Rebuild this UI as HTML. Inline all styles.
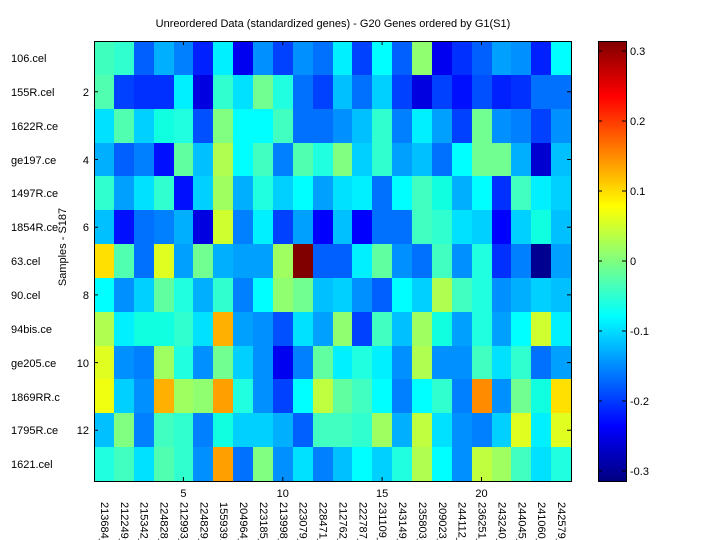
<!DOCTYPE html>
<html><head><meta charset="utf-8"><style>
body{margin:0;width:720px;height:540px;background:#fff;position:relative;overflow:hidden;font-family:"Liberation Sans",Arial,sans-serif}
#hm{position:absolute;left:94px;top:41px;width:477px;height:440px;display:grid;grid-template-columns:repeat(24,1fr);grid-template-rows:repeat(13,1fr)}
#hm i{display:block}
#cb{position:absolute;left:598px;top:41px;width:28px;height:440px;background:linear-gradient(to bottom,#800000 0%,#ff0000 12.5%,#ffff00 37.5%,#00ffff 62.5%,#0000ff 87.5%,#000080 100%)}
svg{position:absolute;left:0;top:0}
text{font-family:"Liberation Sans",Arial,sans-serif;font-size:11px;fill:#000}
</style></head><body>
<div id="hm">
<i style="background:#3fffbf"></i><i style="background:#30ffd0"></i><i style="background:#0060ff"></i><i style="background:#00b0ff"></i><i style="background:#0080ff"></i><i style="background:#0020ff"></i><i style="background:#00f0ff"></i><i style="background:#0000f0"></i><i style="background:#0090ff"></i><i style="background:#0040ff"></i><i style="background:#0090ff"></i><i style="background:#0070ff"></i><i style="background:#00f0ff"></i><i style="background:#0040ff"></i><i style="background:#00ffff"></i><i style="background:#0060ff"></i><i style="background:#90ff70"></i><i style="background:#0000f0"></i><i style="background:#0030ff"></i><i style="background:#0060ff"></i><i style="background:#00a0ff"></i><i style="background:#0090ff"></i><i style="background:#0020ff"></i><i style="background:#00ffff"></i>
<i style="background:#50ffb0"></i><i style="background:#0040ff"></i><i style="background:#0030ff"></i><i style="background:#0030ff"></i><i style="background:#00f0ff"></i><i style="background:#0000e0"></i><i style="background:#30ffd0"></i><i style="background:#00e0ff"></i><i style="background:#70ff90"></i><i style="background:#20ffe0"></i><i style="background:#0070ff"></i><i style="background:#0040ff"></i><i style="background:#00c0ff"></i><i style="background:#0070ff"></i><i style="background:#00d0ff"></i><i style="background:#0040ff"></i><i style="background:#0000e0"></i><i style="background:#0040ff"></i><i style="background:#0010ff"></i><i style="background:#0050ff"></i><i style="background:#0020ff"></i><i style="background:#0030ff"></i><i style="background:#0070ff"></i><i style="background:#0070ff"></i>
<i style="background:#00e0ff"></i><i style="background:#50ffb0"></i><i style="background:#00d0ff"></i><i style="background:#10ffe0"></i><i style="background:#20ffe0"></i><i style="background:#0050ff"></i><i style="background:#80ff80"></i><i style="background:#00ffff"></i><i style="background:#00ffff"></i><i style="background:#40ffc0"></i><i style="background:#0070ff"></i><i style="background:#0070ff"></i><i style="background:#0090ff"></i><i style="background:#00c0ff"></i><i style="background:#30ffd0"></i><i style="background:#0080ff"></i><i style="background:#00f0ff"></i><i style="background:#00a0ff"></i><i style="background:#0040ff"></i><i style="background:#70ff90"></i><i style="background:#0090ff"></i><i style="background:#0080ff"></i><i style="background:#0040ff"></i><i style="background:#0090ff"></i>
<i style="background:#00b0ff"></i><i style="background:#0060ff"></i><i style="background:#0080ff"></i><i style="background:#0010ff"></i><i style="background:#60ffa0"></i><i style="background:#00c0ff"></i><i style="background:#b0ff50"></i><i style="background:#00ffff"></i><i style="background:#40ffc0"></i><i style="background:#0080ff"></i><i style="background:#50ffb0"></i><i style="background:#20ffe0"></i><i style="background:#80ff80"></i><i style="background:#00d0ff"></i><i style="background:#30ffd0"></i><i style="background:#00a0ff"></i><i style="background:#00c0ff"></i><i style="background:#0070ff"></i><i style="background:#00ffff"></i><i style="background:#70ff90"></i><i style="background:#70ff90"></i><i style="background:#00b0ff"></i><i style="background:#0000d0"></i><i style="background:#00c0ff"></i>
<i style="background:#30ffd0"></i><i style="background:#00a0ff"></i><i style="background:#00e0ff"></i><i style="background:#30ffd0"></i><i style="background:#0010ff"></i><i style="background:#00d0ff"></i><i style="background:#a0ff60"></i><i style="background:#00b0ff"></i><i style="background:#20ffe0"></i><i style="background:#00d0ff"></i><i style="background:#00ffff"></i><i style="background:#00a0ff"></i><i style="background:#00e0ff"></i><i style="background:#00f0ff"></i><i style="background:#0070ff"></i><i style="background:#00ffff"></i><i style="background:#40ffc0"></i><i style="background:#10ffe0"></i><i style="background:#00b0ff"></i><i style="background:#00ffff"></i><i style="background:#0030ff"></i><i style="background:#40ffc0"></i><i style="background:#00f0ff"></i><i style="background:#00d0ff"></i>
<i style="background:#00c0ff"></i><i style="background:#0010ff"></i><i style="background:#0070ff"></i><i style="background:#0080ff"></i><i style="background:#00b0ff"></i><i style="background:#0000e0"></i><i style="background:#d0ff30"></i><i style="background:#0080ff"></i><i style="background:#00f0ff"></i><i style="background:#0040ff"></i><i style="background:#00a0ff"></i><i style="background:#0000ff"></i><i style="background:#00c0ff"></i><i style="background:#0000ff"></i><i style="background:#0070ff"></i><i style="background:#0070ff"></i><i style="background:#40ffc0"></i><i style="background:#30ffd0"></i><i style="background:#00e0ff"></i><i style="background:#00d0ff"></i><i style="background:#0000ff"></i><i style="background:#00d0ff"></i><i style="background:#10ffe0"></i><i style="background:#00c0ff"></i>
<i style="background:#ffe000"></i><i style="background:#50ffb0"></i><i style="background:#0070ff"></i><i style="background:#e0ff20"></i><i style="background:#00a0ff"></i><i style="background:#70ff90"></i><i style="background:#00b0ff"></i><i style="background:#00a0ff"></i><i style="background:#00a0ff"></i><i style="background:#a0ff60"></i><i style="background:#800000"></i><i style="background:#0060ff"></i><i style="background:#0060ff"></i><i style="background:#00f0ff"></i><i style="background:#60ffa0"></i><i style="background:#0090ff"></i><i style="background:#0070ff"></i><i style="background:#40ffc0"></i><i style="background:#0090ff"></i><i style="background:#20ffe0"></i><i style="background:#0030ff"></i><i style="background:#0080ff"></i><i style="background:#000090"></i><i style="background:#00a0ff"></i>
<i style="background:#00ffff"></i><i style="background:#0090ff"></i><i style="background:#00d0ff"></i><i style="background:#60ffa0"></i><i style="background:#20ffe0"></i><i style="background:#00b0ff"></i><i style="background:#30ffd0"></i><i style="background:#0080ff"></i><i style="background:#00ffff"></i><i style="background:#90ff70"></i><i style="background:#70ff90"></i><i style="background:#00c0ff"></i><i style="background:#00d0ff"></i><i style="background:#0090ff"></i><i style="background:#0060ff"></i><i style="background:#00ffff"></i><i style="background:#00d0ff"></i><i style="background:#b0ff50"></i><i style="background:#40ffc0"></i><i style="background:#20ffe0"></i><i style="background:#0090ff"></i><i style="background:#00b0ff"></i><i style="background:#00d0ff"></i><i style="background:#00c0ff"></i>
<i style="background:#b0ff50"></i><i style="background:#00f0ff"></i><i style="background:#10ffe0"></i><i style="background:#10ffe0"></i><i style="background:#30ffd0"></i><i style="background:#00e0ff"></i><i style="background:#ffb000"></i><i style="background:#00a0ff"></i><i style="background:#0090ff"></i><i style="background:#0050ff"></i><i style="background:#00e0ff"></i><i style="background:#00a0ff"></i><i style="background:#90ff70"></i><i style="background:#0040ff"></i><i style="background:#40ffc0"></i><i style="background:#00c0ff"></i><i style="background:#a0ff60"></i><i style="background:#10ffe0"></i><i style="background:#00a0ff"></i><i style="background:#20ffe0"></i><i style="background:#00a0ff"></i><i style="background:#00ffff"></i><i style="background:#d0ff30"></i><i style="background:#00f0ff"></i>
<i style="background:#e0ff20"></i><i style="background:#0090ff"></i><i style="background:#0080ff"></i><i style="background:#a0ff60"></i><i style="background:#20ffe0"></i><i style="background:#0090ff"></i><i style="background:#70ff90"></i><i style="background:#00d0ff"></i><i style="background:#0090ff"></i><i style="background:#0000f0"></i><i style="background:#0080ff"></i><i style="background:#60ffa0"></i><i style="background:#00f0ff"></i><i style="background:#20ffe0"></i><i style="background:#00f0ff"></i><i style="background:#0090ff"></i><i style="background:#b0ff50"></i><i style="background:#0090ff"></i><i style="background:#0090ff"></i><i style="background:#40ffc0"></i><i style="background:#00e0ff"></i><i style="background:#30ffd0"></i><i style="background:#0070ff"></i><i style="background:#00a0ff"></i>
<i style="background:#f0ff10"></i><i style="background:#00d0ff"></i><i style="background:#0090ff"></i><i style="background:#ffb000"></i><i style="background:#a0ff60"></i><i style="background:#90ff70"></i><i style="background:#ffa000"></i><i style="background:#20ffe0"></i><i style="background:#0090ff"></i><i style="background:#0040ff"></i><i style="background:#00ffff"></i><i style="background:#c0ff40"></i><i style="background:#60ffa0"></i><i style="background:#40ffc0"></i><i style="background:#00ffff"></i><i style="background:#0080ff"></i><i style="background:#00ffff"></i><i style="background:#30ffd0"></i><i style="background:#0080ff"></i><i style="background:#ff8c00"></i><i style="background:#0090ff"></i><i style="background:#70ff90"></i><i style="background:#10ffe0"></i><i style="background:#ffe000"></i>
<i style="background:#00c0ff"></i><i style="background:#80ff80"></i><i style="background:#0080ff"></i><i style="background:#40ffc0"></i><i style="background:#30ffd0"></i><i style="background:#0080ff"></i><i style="background:#10ffe0"></i><i style="background:#00d0ff"></i><i style="background:#00d0ff"></i><i style="background:#00b0ff"></i><i style="background:#0060ff"></i><i style="background:#40ffc0"></i><i style="background:#40ffc0"></i><i style="background:#30ffd0"></i><i style="background:#a0ff60"></i><i style="background:#00b0ff"></i><i style="background:#c0ff40"></i><i style="background:#00e0ff"></i><i style="background:#0090ff"></i><i style="background:#0080ff"></i><i style="background:#00d0ff"></i><i style="background:#e0ff20"></i><i style="background:#00f0ff"></i><i style="background:#e0ff20"></i>
<i style="background:#20ffe0"></i><i style="background:#40ffc0"></i><i style="background:#00e0ff"></i><i style="background:#50ffb0"></i><i style="background:#30ffd0"></i><i style="background:#0090ff"></i><i style="background:#ffa000"></i><i style="background:#0070ff"></i><i style="background:#80ff80"></i><i style="background:#0090ff"></i><i style="background:#00e0ff"></i><i style="background:#0080ff"></i><i style="background:#00c0ff"></i><i style="background:#00ffff"></i><i style="background:#00d0ff"></i><i style="background:#20ffe0"></i><i style="background:#b0ff50"></i><i style="background:#00ffff"></i><i style="background:#0090ff"></i><i style="background:#c0ff40"></i><i style="background:#a0ff60"></i><i style="background:#40ffc0"></i><i style="background:#00e0ff"></i><i style="background:#20ffe0"></i>
</div>
<div id="cb"></div>
<svg width="720" height="540">
<rect x="94.5" y="41.5" width="477" height="440" fill="none" stroke="#000" stroke-width="1"/>
<rect x="598.5" y="41.5" width="28" height="440" fill="none" stroke="#000" stroke-width="1"/>
<g stroke="#000" stroke-width="1">
<path d="M94 91.8h4M94 159.5h4M94 227.2h4M94 294.9h4M94 362.6h4M94 430.3h4"/>
<path d="M571 91.8h-4M571 159.5h-4M571 227.2h-4M571 294.9h-4M571 362.6h-4M571 430.3h-4"/>
<path d="M183.4 481v-4M282.8 481v-4M382.1 481v-4M481.5 481v-4M183.4 41v4M282.8 41v4M382.1 41v4M481.5 41v4"/>
<path d="M626 51h-4M626 121h-4M626 191h-4M626 261h-4M626 331h-4M626 401h-4M626 471h-4M598 51h4M598 121h4M598 191h4M598 261h4M598 331h4M598 401h4M598 471h4"/>
</g>
<text x="333" y="27" text-anchor="middle">Unreordered Data (standardized genes) - G20 Genes ordered by G1(S1)</text>
<g>
<text x="11" y="62">106.cel</text><text x="11" y="96">155R.cel</text><text x="11" y="130">1622R.ce</text><text x="11" y="164">ge197.ce</text><text x="11" y="197">1497R.ce</text><text x="11" y="231">1854R.ce</text><text x="11" y="265">63.cel</text><text x="11" y="299">90.cel</text><text x="11" y="333">94bis.ce</text><text x="11" y="367">ge205.ce</text><text x="11" y="401">1869RR.c</text><text x="11" y="434">1795R.ce</text><text x="11" y="468">1621.cel</text>
</g>
<g text-anchor="end">
<text x="89" y="96">2</text><text x="89" y="164">4</text><text x="89" y="231">6</text><text x="89" y="299">8</text><text x="89" y="367">10</text><text x="89" y="434">12</text>
</g>
<text transform="translate(66,247) rotate(-90)" text-anchor="middle">Samples - S187</text>
<g text-anchor="middle">
<text x="183.4" y="497">5</text><text x="282.8" y="497">10</text><text x="382.1" y="497">15</text><text x="481.5" y="497">20</text>
</g>
<g>
<text x="630" y="55">0.3</text><text x="630" y="125">0.2</text><text x="630" y="195">0.1</text><text x="630" y="265">0</text><text x="630" y="335">-0.1</text><text x="630" y="405">-0.2</text><text x="630" y="475">-0.3</text>
</g>
<g dominant-baseline="central">
<text transform="translate(103.9,502) rotate(90)">213684_</text>
<text transform="translate(123.8,502) rotate(90)">212249_</text>
<text transform="translate(143.7,502) rotate(90)">215342_</text>
<text transform="translate(163.6,502) rotate(90)">224828_</text>
<text transform="translate(183.4,502) rotate(90)">212993_</text>
<text transform="translate(203.3,502) rotate(90)">224829_</text>
<text transform="translate(223.2,502) rotate(90)">1559391</text>
<text transform="translate(243.1,502) rotate(90)">204964_</text>
<text transform="translate(263,502) rotate(90)">223185_</text>
<text transform="translate(282.8,502) rotate(90)">213998_</text>
<text transform="translate(302.7,502) rotate(90)">223079_</text>
<text transform="translate(322.6,502) rotate(90)">228471_</text>
<text transform="translate(342.5,502) rotate(90)">212762_</text>
<text transform="translate(362.3,502) rotate(90)">222787_</text>
<text transform="translate(382.1,502) rotate(90)">231109_</text>
<text transform="translate(402,502) rotate(90)">243149_</text>
<text transform="translate(421.9,502) rotate(90)">235803_</text>
<text transform="translate(441.8,502) rotate(90)">209023_</text>
<text transform="translate(461.7,502) rotate(90)">244112_</text>
<text transform="translate(481.5,502) rotate(90)">236251_</text>
<text transform="translate(501.4,502) rotate(90)">243240_</text>
<text transform="translate(521.3,502) rotate(90)">244045_</text>
<text transform="translate(541.2,502) rotate(90)">241060_</text>
<text transform="translate(561.1,502) rotate(90)">242579_</text>
</g>
</svg>
</body></html>
